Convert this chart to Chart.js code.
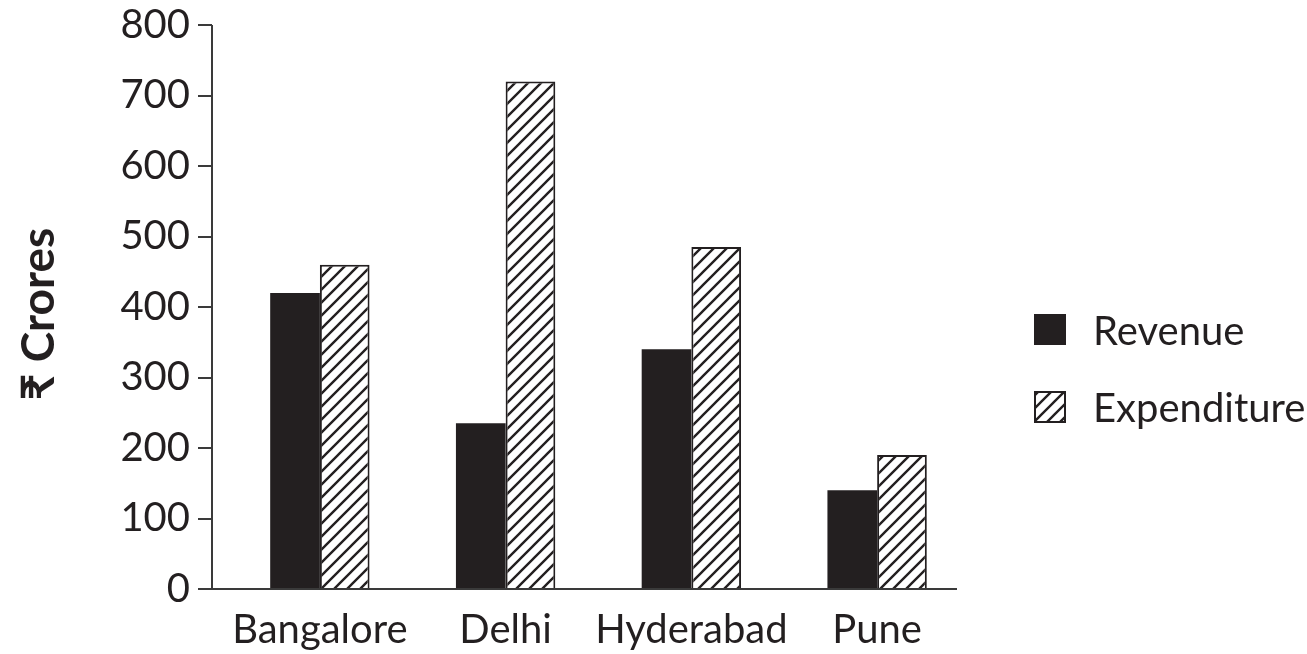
<!DOCTYPE html>
<html>
<head>
<meta charset="utf-8">
<title>Revenue and Expenditure by City</title>
<script src="https://cdn.jsdelivr.net/npm/chart.js@4/dist/chart.umd.min.js"></script>
<style>
  html, body { margin: 0; padding: 0; background: #ffffff; }
  #wrap { width: 1307px; height: 654px; position: relative; }
</style>
</head>
<body>
<div id="wrap"><canvas id="chart" width="1307" height="654"></canvas></div>
<script>
// Cities on the x axis
const cities = ['Bangalore', 'Delhi', 'Hyderabad', 'Pune'];
// Amounts in ₹ crores
const revenue = [420, 235, 340, 140];
const expenditure = [460, 720, 485, 190];
// Y axis range and step
const yTicks = [0, 100, 200, 300, 400, 500, 600, 700, 800];

const INK = '#231f20';
const FONT = "Lato, 'Noto Sans', 'DejaVu Sans', sans-serif";

// Diagonal "/" hatch used for the expenditure bars
function makeHatch() {
  const s = 13;
  const c = document.createElement('canvas');
  c.width = s; c.height = s;
  const g = c.getContext('2d');
  g.fillStyle = '#ffffff';
  g.fillRect(0, 0, s, s);
  g.strokeStyle = INK;
  g.lineWidth = 2.4;
  g.beginPath();
  g.moveTo(-2, s + 2); g.lineTo(s + 2, -2);
  g.moveTo(-2, 2); g.lineTo(2, -2);
  g.moveTo(s - 2, s + 2); g.lineTo(s + 2, s - 2);
  g.stroke();
  return g.createPattern(c, 'repeat');
}
const hatch = makeHatch();

// Axis lines, y tick marks and the legend block on the right
const framePlugin = {
  id: 'frame',
  afterDraw(chart) {
    const ctx = chart.ctx;
    const y = chart.scales.y;
    const area = chart.chartArea;
    const axisX = 212;
    ctx.save();
    ctx.strokeStyle = '#3a3a3a';
    ctx.lineWidth = 2;
    ctx.beginPath();
    ctx.moveTo(axisX, y.getPixelForValue(yTicks[yTicks.length - 1]));
    ctx.lineTo(axisX, area.bottom);
    ctx.moveTo(198, area.bottom);
    ctx.lineTo(957, area.bottom);
    yTicks.forEach(v => {
      const py = Math.round(y.getPixelForValue(v));
      ctx.moveTo(198, py);
      ctx.lineTo(axisX, py);
    });
    ctx.stroke();

    // legend
    const ds = chart.data.datasets;
    ctx.fillStyle = ds[0].backgroundColor;
    ctx.fillRect(1034, 314, 32, 31);
    ctx.fillStyle = ds[1].backgroundColor;
    ctx.fillRect(1035, 392, 30, 30);
    ctx.strokeStyle = INK;
    ctx.lineWidth = 2;
    ctx.strokeRect(1035, 392, 30, 30);
    ctx.fillStyle = INK;
    ctx.font = '40px ' + FONT;
    ctx.textAlign = 'left';
    ctx.textBaseline = 'alphabetic';
    ctx.fillText(ds[0].label, 1093, 345);
    ctx.fillText(ds[1].label, 1093, 422);

    // rotated y-axis title
    ctx.save();
    ctx.translate(39, 314);
    ctx.rotate(-Math.PI / 2);
    ctx.font = 'bold 46px ' + FONT;
    ctx.textAlign = 'center';
    ctx.textBaseline = 'middle';
    ctx.fillText('₹ Crores', 0, 0);
    ctx.restore();

    ctx.restore();
  }
};

new Chart(document.getElementById('chart'), {
  type: 'bar',
  data: {
    labels: cities,
    datasets: [
      {
        label: 'Revenue',
        data: revenue,
        backgroundColor: INK,
        borderColor: INK,
        borderWidth: 0
      },
      {
        label: 'Expenditure',
        data: expenditure,
        backgroundColor: hatch,
        borderColor: INK,
        borderWidth: 2
      }
    ]
  },
  options: {
    responsive: false,
    animation: false,
    events: [],
    layout: { padding: { top: 0, right: 337, left: 0, bottom: 0 } },
    plugins: {
      legend: { display: false },
      tooltip: { enabled: false }
    },
    datasets: {
      bar: { categoryPercentage: 0.535, barPercentage: 1.0 }
    },
    scales: {
      x: {
        grid: { display: false, drawTicks: false },
        border: { display: false },
        ticks: {
          color: INK,
          padding: 17,
          maxRotation: 0,
          autoSkip: false,
          font: { family: FONT, size: 40 }
        },
        afterFit(scale) { scale.height = 65; }
      },
      y: {
        min: yTicks[0],
        max: yTicks[yTicks.length - 1],
        grid: { display: false, drawTicks: true, tickLength: 36 },
        border: { display: false },
        ticks: {
          stepSize: yTicks[1] - yTicks[0],
          color: INK,
          padding: 1,
          font: { family: FONT, size: 40 }
        },
        afterFit(scale) { scale.width = 227; }
      }
    }
  },
  plugins: [framePlugin]
});
</script>
</body>
</html>
